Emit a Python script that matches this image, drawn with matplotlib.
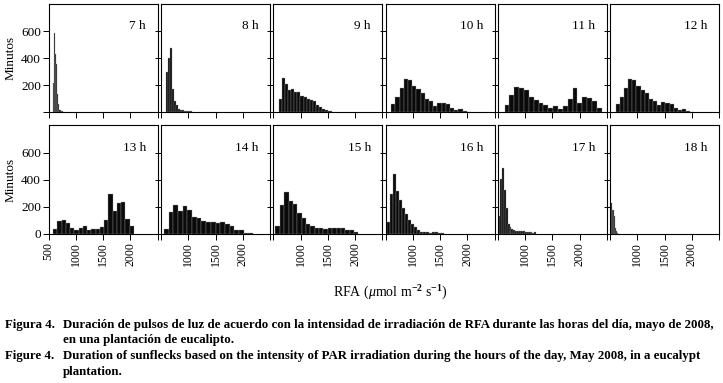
import matplotlib
matplotlib.use('Agg')
import matplotlib.pyplot as plt

plt.rcParams['font.family'] = ['Liberation Serif', 'DejaVu Serif']
plt.rcParams['mathtext.fontset'] = 'custom'
plt.rcParams['mathtext.rm'] = 'Liberation Serif'
plt.rcParams['mathtext.it'] = 'Liberation Serif:italic'
plt.rcParams['mathtext.bf'] = 'Liberation Serif:bold'

# ---------------- data ----------------
hours = [7, 8, 9, 10, 11, 12, 13, 14, 15, 16, 17, 18]
bin_start = [575, 590, 600, 605, 625, 605, 585, 555, 540, 525, 505, 510]
bin_width = [21, 37, 57, 77, 89, 76, 78, 86, 80, 55, 35, 20]

h07 = [212, 587, 430, 355, 137, 62, 17, 10, 5]
h08 = [300, 400, 475, 168, 82, 50, 25, 12, 12, 8, 8, 5, 5]
h09 = [100, 255, 207, 165, 168, 152, 145, 118, 108, 95, 88, 78, 50, 35, 24, 14, 5]
h10 = [62, 108, 175, 245, 238, 192, 168, 138, 95, 80, 48, 70, 65, 62, 32, 15, 20, 5, 3]
h11 = [50, 125, 182, 175, 162, 108, 88, 68, 50, 32, 42, 22, 42, 95, 180, 68, 112, 102, 80, 30]
h12 = [62, 108, 175, 245, 238, 192, 162, 138, 95, 80, 50, 72, 65, 62, 32, 18, 22, 8, 3]
h13 = [40, 99, 106, 82, 44, 32, 44, 59, 32, 37, 37, 52, 106, 296, 173, 230, 237, 114, 62]
h14 = [40, 165, 217, 173, 207, 180, 126, 119, 96, 89, 89, 82, 89, 72, 62, 32, 32, 10, 7]
h15 = [62, 212, 313, 247, 222, 156, 119, 77, 62, 47, 47, 37, 47, 44, 44, 44, 32, 32, 12]
h16 = [86, 296, 440, 316, 254, 193, 148, 106, 77, 52, 27, 17, 17, 12, 10, 12, 17, 10, 5]
h17 = [136, 403, 484, 328, 195, 74, 52, 40, 27, 25, 22, 20, 22, 20, 17, 12, 12, 12, 10, 15]
h18 = [230, 180, 180, 130, 44, 20, 7]
counts = [h07, h08, h09, h10, h11, h12, h13, h14, h15, h16, h17, h18]

x_ticks = [500, 1000, 1500, 2000, 2500]
x_ticklabels = ['500', '1000', '1500', '2000', '']
y_ticks = [0, 200, 400, 600]

caption = [
    ('Figura 4.', 'Duración de pulsos de luz de acuerdo con la intensidad de irradiación de RFA durante las horas del día, mayo de 2008,'),
    ('', 'en una plantación de eucalipto.'),
    ('Figure 4.', 'Duration of sunflecks based on the intensity of PAR irradiation during the hours of the day, May 2008, in a eucalypt'),
    ('', 'plantation.'),
]

# ---------------- layout ----------------
W, H = 723, 383
fig = plt.figure(figsize=(W / 100, H / 100), dpi=100)

lefts = [48.5, 161.0, 273.3, 385.5, 497.8, 610.0]
pw = 109.0
rows = [(3.5, 112.0), (125.0, 234.0)]

for i, hr in enumerate(hours):
    r, c = divmod(i, 6)
    top, bot = rows[r]
    ax = fig.add_axes([lefts[c] / W, (H - bot) / H, pw / W, (bot - top) / H])
    hs = counts[i]
    edges = [bin_start[i] + k * bin_width[i] for k in range(len(hs))]
    ax.bar(edges, hs, width=bin_width[i], align='edge', color='#0a0a0a',
           edgecolor='#9a9a9a', linewidth=0.25)
    ax.set_xlim(500, 2500)
    ax.set_ylim(0, 805)
    ax.set_xticks(x_ticks)
    ax.set_yticks(y_ticks)
    for s in ax.spines.values():
        s.set_linewidth(0.8)
    ax.tick_params(direction='out', length=4, width=0.7, pad=1.5)
    ax.tick_params(axis='x', labelsize=8.5)
    ax.tick_params(axis='y', labelsize=9.5)
    if r == 1:
        labs = list(x_ticklabels)
        if c != 0:
            labs[0] = ''
        ax.set_xticklabels(labs, rotation=90)
    else:
        ax.set_xticklabels([])
    if c == 0:
        ylabs = [str(v) for v in y_ticks]
        if r == 0:
            ylabs[0] = ''
        ax.set_yticklabels(ylabs)
        ax.set_ylabel('Minutos', fontsize=9.5, labelpad=3)
    else:
        ax.set_yticklabels([])
    ax.text(0.895, 0.79, f'{hr} h', transform=ax.transAxes, ha='right',
            va='center', fontsize=9.5)

fig.text(390 / W, 1 - 293 / H, r'RFA ($\mathit{\mu}$mol m$^{\mathbf{-2}}$ s$^{\mathbf{-1}}$)',
         ha='center', va='center', fontsize=10)

cap_y = [325, 340, 356, 372]
for (lead, body), yy in zip(caption, cap_y):
    if lead:
        fig.text(5 / W, 1 - yy / H, lead, ha='left', va='center',
                 fontsize=9.3, fontweight='bold')
    fig.text(63 / W, 1 - yy / H, body, ha='left', va='center',
             fontsize=9.3, fontweight='bold')

fig.savefig('out.png', dpi=100)
